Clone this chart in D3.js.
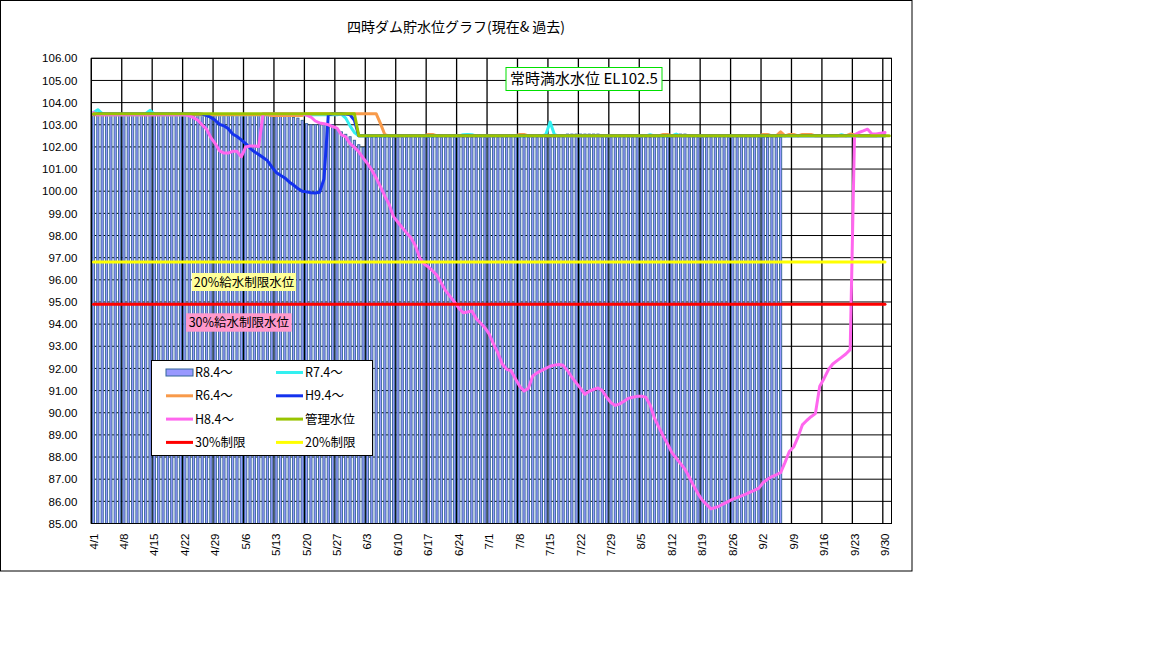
<!DOCTYPE html>
<html lang="ja">
<head>
<meta charset="utf-8">
<title>四時ダム貯水位グラフ</title>
<script src="https://cdnjs.cloudflare.com/ajax/libs/d3/7.8.5/d3.min.js"></script>
<style>
    body { margin: 0; background: #fff; }
    svg text { font-family: "Noto Sans CJK JP", sans-serif; fill: #000; }
    .axis text { font-family: "Liberation Sans", Arial, sans-serif; font-size: 11.5px; }
    .axis path, .axis line { display: none; }
</style>
</head>
<body>
<div id="chart"></div>
<script>
// categories: every day 4/1 .. 10/1
var fmt = d3.timeFormat("%-m/%-d");
var days = d3.timeDay.range(new Date(2021, 3, 1), new Date(2021, 9, 2)).map(fmt);
var tickDays = days.filter(function(d, i) { return i % 7 === 0 && i < 183; });
var yTicks = d3.range(85, 107);

// R8.4~ (bars), 4/1 .. 9/6
var r84 = [
    103.45,103.42,103.42,103.42,103.42,103.42,103.42,103.42,103.42,103.42,
    103.42,103.42,103.42,103.45,103.42,103.42,103.42,103.42,103.42,103.42,
    103.42,103.42,103.42,103.42,103.42,103.42,103.42,103.42,103.42,103.42,
    103.4,103.4,103.4,103.42,103.42,103.42,103.42,103.42,103.42,103.42,
    103.42,103.42,103.4,103.4,103.42,103.38,103.33,103.3,103.2,103.05,
    103.0,103.0,103.0,103.0,103.0,103.0,102.8,102.68,102.57,102.46,
    102.3,102.1,101.98,102.43,102.43,102.43,102.43,102.43,102.43,102.43,
    102.43,102.43,102.43,102.43,102.43,102.43,102.43,102.43,102.43,102.43,
    102.43,102.43,102.43,102.43,102.43,102.43,102.43,102.43,102.43,102.43,
    102.43,102.43,102.43,102.43,102.43,102.43,102.43,102.43,102.43,102.43,
    102.43,102.43,102.43,102.43,102.43,102.43,102.43,102.43,102.43,102.58,
    102.58,102.58,102.58,102.58,102.58,102.58,102.58,102.43,102.43,102.43,
    102.43,102.43,102.43,102.43,102.43,102.43,102.43,102.43,102.43,102.43,
    102.43,102.43,102.43,102.43,102.58,102.58,102.58,102.43,102.43,102.43,
    102.43,102.43,102.43,102.43,102.43,102.43,102.43,102.43,102.43,102.43,
    102.43,102.43,102.43,102.43,102.43,102.43,102.43,102.43,102.43
];

// R7.4~
var r74 = [
    103.55,103.68,103.5,103.45,103.45,103.45,103.45,103.45,103.45,103.45,
    103.45,103.45,103.5,103.65,103.48,103.45,103.45,103.45,103.45,103.45,
    103.45,103.45,103.45,103.45,103.45,103.45,103.45,103.45,103.45,103.45,
    103.45,103.45,103.45,103.45,103.45,103.45,103.45,103.45,103.45,103.45,
    103.45,103.45,103.45,103.45,103.45,103.45,103.45,103.45,103.45,103.45,
    103.45,103.45,103.45,103.45,103.45,103.45,103.45,103.48,103.3,102.95,
    102.65,102.5,102.5,102.5,102.52,102.5,102.5,102.5,102.5,102.5,
    102.5,102.5,102.5,102.5,102.5,102.5,102.5,102.5,102.5,102.5,
    102.5,102.5,102.5,102.5,102.5,102.55,102.56,102.55,102.5,102.5,
    102.5,102.5,102.5,102.5,102.5,102.5,102.5,102.5,102.5,102.5,
    102.5,102.5,102.5,102.5,102.55,103.12,102.55,102.5,102.5,102.5,
    102.5,102.5,102.5,102.5,102.5,102.5,102.5,102.5,102.5,102.5,
    102.5,102.5,102.5,102.5,102.5,102.5,102.5,102.5,102.55,102.5,
    102.5,102.5,102.5,102.5,102.58,102.5,102.5,102.5,102.5,102.5,
    102.5,102.5,102.5,102.5,102.5,102.5,102.5,102.5,102.5,102.5,
    102.5,102.5,102.5,102.5,102.5,102.55,102.5,102.5,102.5,102.5,
    102.5,102.5,102.5,102.5,102.5,102.5,102.5,102.5,102.5,102.5,
    102.5,102.5,102.55,102.5,102.5,102.5,102.5,102.5,102.5,102.5,
    102.5,102.5,102.5
];

// R6.4~
var r64 = [
    103.45,103.45,103.45,103.45,103.45,103.45,103.45,103.45,103.45,103.45,
    103.45,103.45,103.45,103.45,103.45,103.45,103.45,103.45,103.45,103.45,
    103.45,103.45,103.45,103.45,103.45,103.45,103.45,103.45,103.45,103.45,
    103.45,103.45,103.45,103.45,103.45,103.45,103.45,103.45,103.45,103.45,
    103.45,103.42,103.42,103.42,103.42,103.42,103.42,103.42,103.42,103.5,
    103.5,103.5,103.5,103.5,103.5,103.5,103.5,103.5,103.5,103.5,
    103.5,103.5,103.5,103.5,103.5,103.5,103.05,102.55,102.5,102.5,
    102.5,102.5,102.5,102.5,102.5,102.5,102.5,102.56,102.56,102.5,
    102.5,102.5,102.5,102.5,102.5,102.5,102.5,102.5,102.5,102.5,
    102.5,102.5,102.5,102.5,102.5,102.5,102.5,102.5,102.56,102.56,
    102.5,102.5,102.5,102.5,102.5,102.5,102.5,102.5,102.5,102.5,
    102.5,102.5,102.5,102.5,102.5,102.5,102.5,102.5,102.5,102.5,
    102.5,102.5,102.5,102.5,102.5,102.5,102.5,102.5,102.5,102.5,
    102.5,102.56,102.56,102.5,102.5,102.5,102.5,102.5,102.5,102.5,
    102.5,102.5,102.5,102.5,102.5,102.5,102.5,102.5,102.5,102.5,
    102.5,102.5,102.5,102.5,102.56,102.56,102.5,102.5,102.68,102.5,
    102.56,102.56,102.5,102.56,102.56,102.56,102.5,102.5,102.5,102.5,
    102.5,102.5,102.5,102.5,102.58,102.55,102.5,102.5,102.5,102.5,
    102.5,102.56,102.5
];

// H9.4~
var h94 = [
    103.5,103.5,103.5,103.5,103.5,103.5,103.5,103.5,103.5,103.5,
    103.5,103.5,103.5,103.5,103.5,103.5,103.5,103.5,103.5,103.5,
    103.5,103.5,103.5,103.5,103.5,103.48,103.42,103.33,103.2,103.02,
    102.95,102.82,102.58,102.47,102.32,102.15,101.95,101.78,101.66,101.52,
    101.38,101.1,100.85,100.72,100.6,100.42,100.28,100.12,100.0,99.97,
    99.93,99.92,99.95,100.55,103.45,103.5,103.5,103.5,103.48,103.45,
    103.2,102.5,102.5,102.5,102.5,102.5,102.5,102.5,102.5,102.5,
    102.5,102.5,102.5,102.5,102.5,102.5,102.5,102.5,102.5,102.5,
    102.5,102.5,102.5,102.5,102.5,102.5,102.5,102.5,102.5,102.5,
    102.5,102.5,102.5,102.5,102.5,102.5,102.5,102.5,102.5,102.5,
    102.5,102.5,102.5,102.5,102.5,102.5,102.5,102.5,102.5,102.5,
    102.5,102.5,102.5,102.5,102.5,102.5,102.5,102.5,102.5,102.5,
    102.5,102.5,102.5,102.5,102.5,102.5,102.5,102.5,102.5,102.5,
    102.5,102.5,102.5,102.5,102.5,102.5,102.5,102.5,102.5,102.5,
    102.5,102.5,102.5,102.5,102.5,102.5,102.5,102.5,102.5,102.5,
    102.5,102.5,102.5,102.5,102.5,102.5,102.5,102.5,102.5,102.5,
    102.5,102.5,102.5,102.5,102.5,102.5,102.5,102.5,102.5,102.5,
    102.5,102.5,102.5,102.5,102.5,102.5,102.5,102.5,102.5,102.5,
    102.5,102.5,102.5
];

// H8.4~
var h84 = [
    103.55,103.45,103.45,103.45,103.45,103.45,103.45,103.45,103.45,103.45,
    103.45,103.45,103.45,103.45,103.45,103.45,103.45,103.45,103.45,103.45,
    103.45,103.45,103.4,103.32,103.2,102.99,102.8,102.42,102.15,101.82,
    101.72,101.72,101.8,101.8,101.55,102.0,102.04,102.04,102.02,103.5,
    103.5,103.5,103.5,103.5,103.5,103.5,103.5,103.5,103.5,103.43,
    103.35,103.17,103.08,103.05,103.0,102.92,102.85,102.55,102.45,102.15,
    101.98,101.78,101.5,101.25,100.95,100.6,100.2,99.78,99.4,98.85,
    98.6,98.35,98.12,97.9,97.55,97.0,96.72,96.58,96.4,96.2,
    95.85,95.5,95.25,95.0,94.72,94.51,94.55,94.59,94.25,94.05,
    93.84,93.55,93.1,92.7,92.2,91.96,91.9,91.55,91.2,90.98,
    91.1,91.66,91.8,91.9,92.0,92.1,92.15,92.18,92.14,91.9,
    91.6,91.35,91.1,90.83,90.97,91.05,91.12,91.0,90.7,90.45,
    90.33,90.4,90.52,90.65,90.7,90.74,90.75,90.7,90.35,89.75,
    89.35,88.95,88.6,88.2,87.95,87.7,87.45,87.1,86.7,86.35,
    86.05,85.85,85.66,85.72,85.8,85.9,86.0,86.1,86.17,86.25,
    86.33,86.42,86.5,86.6,86.85,87.0,87.12,87.2,87.3,87.75,
    88.25,88.45,88.9,89.45,89.65,89.82,89.96,91.2,91.55,91.95,
    92.2,92.35,92.5,92.65,92.85,102.55,102.65,102.72,102.8,102.58,
    102.58,102.62,102.65
];

// 管理水位 (step at 6/1), 30% / 20% limits
var kanriDays = ["4/1", "5/31", "6/1", "10/1"];
var kanriVals = [103.5, 103.5, 102.5, 102.5];
var limitDays = ["4/1", "9/30"];
var limit30 = [94.9, 94.9];
var limit20 = [96.8, 96.8];

var series = [
    {name: "R7.4〜", vals: r74, color: "#33f0f0"},
    {name: "R6.4〜", vals: r64, color: "#f89a4a"},
    {name: "H9.4〜", vals: h94, color: "#1432ee"},
    {name: "H8.4〜", vals: h84, color: "#ff66ee"},
    {name: "管理水位", days: kanriDays, vals: kanriVals, color: "#99c400"},
    {name: "30%制限", days: limitDays, vals: limit30, color: "#ff0000"},
    {name: "20%制限", days: limitDays, vals: limit20, color: "#ffff00"}
];

var W = 1152, H = 648;
var pLeft = 91.3, pRight = 891.5, pTop = 58.3, pBottom = 523.5;

var svg = d3.select("#chart").append("svg")
    .attr("width", W)
    .attr("height", H);

// chart frame
svg.append("rect")
    .attr("x", 0.5).attr("y", 0.5)
    .attr("width", 911.5).attr("height", 570.5)
    .attr("fill", "#fff").attr("stroke", "#000");

var x = d3.scaleBand().domain(days).range([pLeft, pRight]).padding(0);
var y = d3.scaleLinear().domain([85, 106]).range([pBottom, pTop]);
var step = x.step();
var cx = function(d) { return x(d) + step / 2; };

// gridlines
svg.append("g").selectAll("line")
    .data(yTicks).enter().append("line")
    .attr("x1", pLeft).attr("x2", pRight)
    .attr("y1", function(d) { return y(d); })
    .attr("y2", function(d) { return y(d); })
    .attr("stroke", "#000").attr("stroke-width", 1);

svg.append("g").selectAll("line")
    .data(tickDays).enter().append("line")
    .attr("x1", function(d) { return x(d); })
    .attr("x2", function(d) { return x(d); })
    .attr("y1", pTop).attr("y2", pBottom)
    .attr("stroke", "#000").attr("stroke-width", 1.3);

// bars
svg.append("g").selectAll("rect")
    .data(r84).enter().append("rect")
    .attr("x", function(d, i) { return cx(days[i]) - 1.1; })
    .attr("y", function(d) { return y(d); })
    .attr("width", 2.2)
    .attr("height", function(d) { return pBottom - y(d); })
    .attr("fill", "#9999ff")
    .attr("stroke", "#336699")
    .attr("stroke-width", 0.9);

// plot frame
svg.append("rect")
    .attr("x", pLeft).attr("y", pTop)
    .attr("width", pRight - pLeft).attr("height", pBottom - pTop)
    .attr("fill", "none").attr("stroke", "#000");

// lines
var line = d3.line()
    .x(function(d) { return cx(d[0]); })
    .y(function(d) { return y(d[1]); });

series.forEach(function(s) {
    var pts = s.vals.map(function(v, i) {
        return [s.days ? s.days[i] : days[i], v];
    });
    svg.append("path")
        .datum(pts)
        .attr("d", line)
        .attr("fill", "none")
        .attr("stroke", s.color)
        .attr("stroke-width", 3)
        .attr("stroke-linejoin", "round")
        .attr("stroke-linecap", "round");
});

// axes
svg.append("g")
    .attr("class", "axis")
    .attr("transform", "translate(" + pLeft + ",0)")
    .call(d3.axisLeft(y).tickValues(yTicks).tickFormat(d3.format(".2f")).tickSize(0).tickPadding(14));

svg.append("g")
    .attr("class", "axis")
    .attr("transform", "translate(0," + pBottom + ")")
    .call(d3.axisBottom(x).tickValues(tickDays).tickSize(0))
    .selectAll("text")
    .attr("transform", "rotate(-90)")
    .attr("x", -10)
    .attr("y", 0)
    .attr("dy", "0.35em")
    .style("text-anchor", "end");

// title
svg.append("text")
    .attr("x", 456).attr("y", 32)
    .attr("text-anchor", "middle")
    .style("font-size", "14px")
    .text("四時ダム貯水位グラフ(現在& 過去)");

// legend
var legend = svg.append("g");
legend.append("rect")
    .attr("x", 151.5).attr("y", 360.5)
    .attr("width", 221).attr("height", 95)
    .attr("fill", "#fff").attr("stroke", "#000");

var legendItems = [{name: "R8.4〜", bar: true}].concat(series);
legendItems.forEach(function(s, i) {
    var col = i % 2, row = Math.floor(i / 2);
    var lx = 166 + col * 110, ly = 372.5 + row * 23.3;
    var g = legend.append("g");
    if (s.bar) {
        g.append("rect")
            .attr("x", lx).attr("y", ly - 3.5)
            .attr("width", 27).attr("height", 7)
            .attr("fill", "#9999ff").attr("stroke", "#336699");
    } else {
        g.append("line")
            .attr("x1", lx).attr("x2", lx + 27)
            .attr("y1", ly).attr("y2", ly)
            .attr("stroke", s.color).attr("stroke-width", 3);
    }
    g.append("text")
        .attr("x", lx + 29).attr("y", ly)
        .attr("dy", "0.36em")
        .style("font-size", "12.5px")
        .text(s.name);
});

// notes
function note(bx, by, bw, bh, fill, stroke, size, txt) {
    svg.append("rect")
        .attr("x", bx).attr("y", by).attr("width", bw).attr("height", bh)
        .attr("fill", fill).attr("stroke", stroke);
    svg.append("text")
        .attr("x", bx + bw / 2).attr("y", by + bh / 2)
        .attr("dy", "0.36em")
        .attr("text-anchor", "middle")
        .style("font-size", size)
        .text(txt);
}
note(192, 273, 104, 18, "#ffff99", "none", "12.5px", "20%給水制限水位");
note(186, 313.3, 105.7, 18.4, "#ff99cc", "none", "12.5px", "30%給水制限水位");
note(506, 67.5, 156, 23, "#fff", "#00e000", "15px", "常時満水水位 EL102.5");
</script>
</body>
</html>
